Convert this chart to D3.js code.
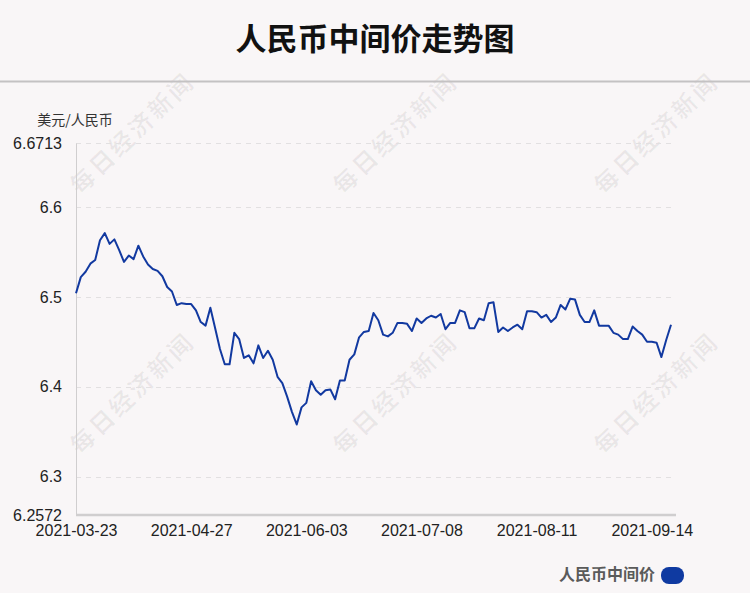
<!DOCTYPE html>
<html><head><meta charset="utf-8">
<script src="https://cdn.jsdelivr.net/npm/d3@7/dist/d3.min.js"></script>
<style>
html,body{margin:0;padding:0;background:#f9f6f7;}
svg{display:block;}
</style></head>
<body><svg id="c" width="750" height="593"></svg>
<script>
const title = "人民币中间价走势图";
const yAxisName = "美元/人民币";
const seriesName = "人民币中间价";
const watermark = "每日经济新闻";
const yTicks = [6.2572, 6.3, 6.4, 6.5, 6.6, 6.6713];
const yGrid = [6.3, 6.4, 6.5, 6.6, 6.6713];
const xTickLabels = ["2021-03-23","2021-04-27","2021-06-03","2021-07-08","2021-08-11","2021-09-14"];
const dates = [
"2021-03-23","2021-03-24","2021-03-25","2021-03-26","2021-03-29","2021-03-30","2021-03-31",
"2021-04-01","2021-04-02","2021-04-06","2021-04-07","2021-04-08","2021-04-09","2021-04-12","2021-04-13","2021-04-14","2021-04-15","2021-04-16","2021-04-19","2021-04-20","2021-04-21","2021-04-22","2021-04-23","2021-04-26","2021-04-27","2021-04-28","2021-04-29","2021-04-30",
"2021-05-06","2021-05-07","2021-05-10","2021-05-11","2021-05-12","2021-05-13","2021-05-14","2021-05-17","2021-05-18","2021-05-19","2021-05-20","2021-05-21","2021-05-24","2021-05-25","2021-05-26","2021-05-27","2021-05-28","2021-05-31",
"2021-06-01","2021-06-02","2021-06-03","2021-06-04","2021-06-07","2021-06-08","2021-06-09","2021-06-10","2021-06-11","2021-06-15","2021-06-16","2021-06-17","2021-06-18","2021-06-21","2021-06-22","2021-06-23","2021-06-24","2021-06-25","2021-06-28","2021-06-29","2021-06-30",
"2021-07-01","2021-07-02","2021-07-05","2021-07-06","2021-07-07","2021-07-08","2021-07-09","2021-07-12","2021-07-13","2021-07-14","2021-07-15","2021-07-16","2021-07-19","2021-07-20","2021-07-21","2021-07-22","2021-07-23","2021-07-26","2021-07-27","2021-07-28","2021-07-29","2021-07-30",
"2021-08-02","2021-08-03","2021-08-04","2021-08-05","2021-08-06","2021-08-09","2021-08-10","2021-08-11","2021-08-12","2021-08-13","2021-08-16","2021-08-17","2021-08-18","2021-08-19","2021-08-20","2021-08-23","2021-08-24","2021-08-25","2021-08-26","2021-08-27","2021-08-30","2021-08-31",
"2021-09-01","2021-09-02","2021-09-03","2021-09-06","2021-09-07","2021-09-08","2021-09-09","2021-09-10","2021-09-13","2021-09-14","2021-09-15","2021-09-16","2021-09-17","2021-09-22"
];
const values = [
6.504,6.522,6.528,6.537,6.541,6.563,6.571,6.559,6.564,6.552,
6.539,6.546,6.542,6.557,6.545,6.536,6.531,6.529,6.523,6.511,
6.506,6.491,6.493,6.492,6.492,6.485,6.472,6.468,6.488,6.465,
6.442,6.425,6.425,6.460,6.453,6.432,6.435,6.426,6.446,6.432,
6.440,6.430,6.411,6.404,6.389,6.372,6.358,6.377,6.382,6.406,
6.396,6.391,6.396,6.397,6.386,6.407,6.407,6.430,6.436,6.455,
6.461,6.462,6.482,6.474,6.458,6.456,6.460,6.471,6.471,6.470,
6.462,6.476,6.471,6.476,6.479,6.477,6.481,6.464,6.471,6.471,
6.485,6.483,6.465,6.465,6.476,6.474,6.493,6.494,6.461,6.466,
6.462,6.466,6.469,6.464,6.484,6.484,6.483,6.477,6.480,6.472,
6.477,6.491,6.486,6.498,6.497,6.480,6.472,6.472,6.485,6.468,
6.468,6.468,6.460,6.458,6.453,6.453,6.467,6.462,6.458,6.450,
6.450,6.449,6.433,6.452,6.469
];

const svg = d3.select("#c");
const W = 750, H = 593;
const mLeft = 76, mRight = 671, mTop = 143, mBottom = 515;
const sans = "'Liberation Sans', Arial, 'Noto Sans CJK SC', sans-serif";
const cjk = "'Noto Sans CJK SC', 'Liberation Sans', sans-serif";

// watermarks
const wmPos = [[131,132],[394,132],[655,132],[131,392],[394,392],[655,392]];
svg.append("g").selectAll("text").data(wmPos).join("text")
  .attr("transform", d => `translate(${d[0]},${d[1]}) rotate(-44)`)
  .attr("text-anchor","middle").attr("dominant-baseline","central")
  .attr("font-family", cjk).attr("font-weight","bold").attr("font-size",24)
  .attr("letter-spacing",3)
  .attr("fill","#000").attr("fill-opacity",0.06)
  .text(watermark);

// title
svg.append("text").attr("x",375).attr("y",50).attr("text-anchor","middle")
  .attr("font-family",cjk).attr("font-weight","bold").attr("font-size",31)
  .attr("fill","#111").text(title);
svg.append("line").attr("x1",0).attr("x2",W).attr("y1",81.5).attr("y2",81.5)
  .attr("stroke","#c4c2c3").attr("stroke-width",2);

const x = d3.scalePoint().domain(dates).range([mLeft, mRight]);
const y = d3.scaleLinear().domain([6.2572, 6.6713]).range([mBottom, mTop]);

// grid
svg.append("g").selectAll("line").data(yGrid).join("line")
  .attr("x1",mLeft).attr("x2",mRight).attr("y1",d=>Math.round(y(d))+0.5).attr("y2",d=>Math.round(y(d))+0.5)
  .attr("stroke","#e2e0e1").attr("stroke-dasharray","5,5");

// y axis
const yAxis = d3.axisLeft(y).tickValues(yTicks).tickSize(0).tickPadding(14)
  .tickFormat(d => String(d));
const gy = svg.append("g").attr("transform",`translate(${mLeft},0)`).call(yAxis);
gy.select(".domain").attr("stroke","#d0cecf").attr("stroke-width",1);
gy.selectAll("text").attr("font-family",sans).attr("font-size",16).attr("fill","#222");

svg.append("text").attr("x",75).attr("y",125).attr("text-anchor","middle")
  .attr("font-family",cjk).attr("font-size",14).attr("fill","#333").text(yAxisName);

// x axis
const xAxis = d3.axisBottom(x).tickValues(xTickLabels).tickSize(0).tickPadding(10);
const gx = svg.append("g").attr("transform",`translate(0,${mBottom})`).call(xAxis);
gx.select(".domain").attr("stroke","#d0cecf").attr("stroke-width",2.5)
  .attr("d",`M${mLeft},0H${mRight+5}`);
gx.selectAll("text").attr("font-family",sans).attr("font-size",16).attr("fill","#222");

// line
const line = d3.line().x((d,i)=>x(dates[i])).y(d=>y(d));
svg.append("path").datum(values).attr("d",line)
  .attr("fill","none").attr("stroke","#1239a0").attr("stroke-width",2)
  .attr("stroke-linejoin","round");

// legend
svg.append("text").attr("x",655).attr("y",580).attr("text-anchor","end")
  .attr("font-family",cjk).attr("font-weight","bold").attr("font-size",16)
  .attr("fill","#5a5a5a").text(seriesName);
svg.append("rect").attr("x",661).attr("y",567).attr("width",23).attr("height",17)
  .attr("rx",8).attr("ry",8).attr("fill","#0f3aa1");
</script></body></html>
